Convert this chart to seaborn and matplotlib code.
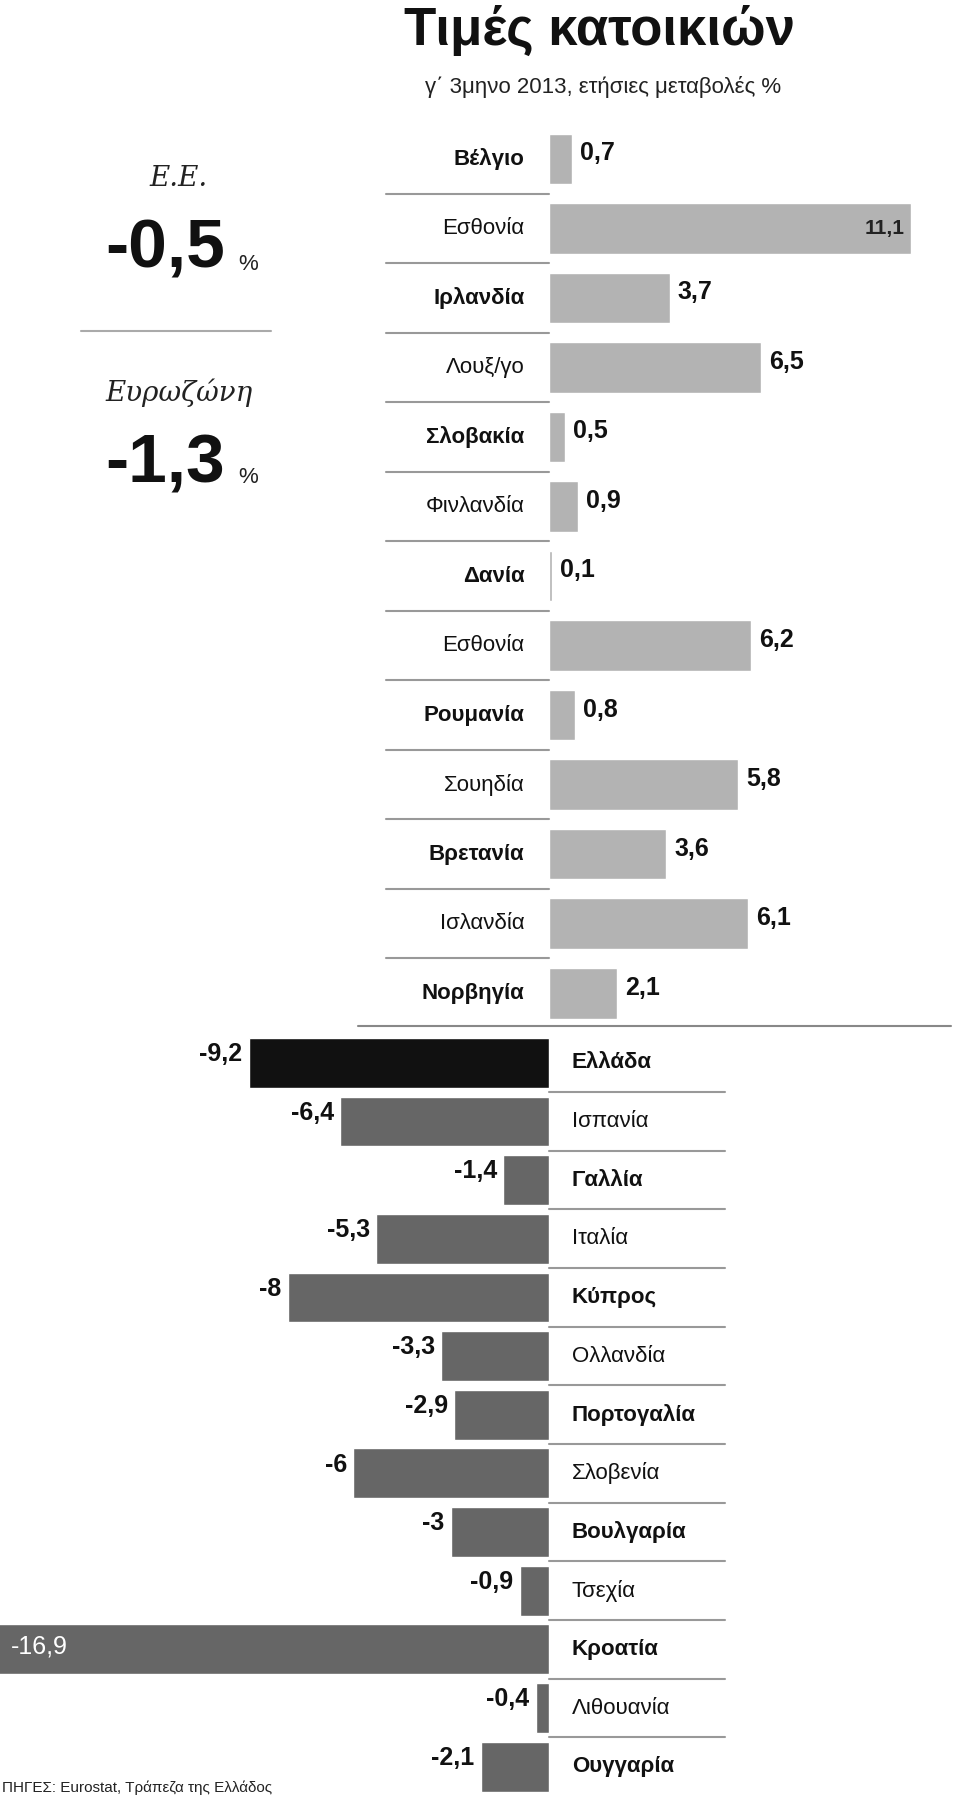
import numpy as np
import pandas as pd
import seaborn as sns
import matplotlib.pyplot as plt
from matplotlib.lines import Line2D

sns.set_style('white')
plt.rcParams['font.family'] = ['Liberation Sans', 'DejaVu Sans']

pos_countries = ['Βέλγιο', 'Εσθονία', 'Ιρλανδία', 'Λουξ/γο', 'Σλοβακία', 'Φινλανδία', 'Δανία',
                 'Εσθονία', 'Ρουμανία', 'Σουηδία', 'Βρετανία', 'Ισλανδία', 'Νορβηγία']
pos_values = [0.7, 11.1, 3.7, 6.5, 0.5, 0.9, 0.1, 6.2, 0.8, 5.8, 3.6, 6.1, 2.1]

neg_countries = ['Ελλάδα', 'Ισπανία', 'Γαλλία', 'Ιταλία', 'Κύπρος', 'Ολλανδία', 'Πορτογαλία',
                 'Σλοβενία', 'Βουλγαρία', 'Τσεχία', 'Κροατία', 'Λιθουανία', 'Ουγγαρία']
neg_values = [-9.2, -6.4, -1.4, -5.3, -8, -3.3, -2.9, -6, -3, -0.9, -16.9, -0.4, -2.1]

W, H = 958, 1796
fig = plt.figure(figsize=(W / 100, H / 100), dpi=100)
X0 = 549  # zero line in px
PX = 32.6  # px per unit
xlim = (-X0 / PX, (W - X0) / PX)


def fmt(v):
    return ('%g' % v).replace('.', ',')


def fy(p):
    return 1 - p / H


# top block
ax1 = fig.add_axes([0, fy(1030), 1, (1030 - 120) / H])
df1 = pd.DataFrame({'row': np.arange(len(pos_values)), 'val': pos_values})
sns.barplot(data=df1, x='val', y='row', orient='h', native_scale=True, color='#b3b3b3',
            width=0.73, ax=ax1, saturation=1)
ax1.set_xlim(xlim)
ax1.set_ylim(12.53, -0.56)
for i, (c, v) in enumerate(zip(pos_countries, pos_values)):
    ax1.text(-0.75, i, c, ha='right', va='center', fontsize=16,
             fontweight='bold' if i % 2 == 0 else 'normal', color='#111')
    if v > 10:
        ax1.text(v - 0.2, i, fmt(v), ha='right', va='center', fontsize=15, fontweight='bold', color='#222')
    else:
        ax1.text(v + 0.25, i - 0.08, fmt(v), ha='left', va='center', fontsize=18, fontweight='bold', color='#111')
    if i < len(pos_values) - 1:
        ax1.plot([-5.0, 0], [i + 0.5, i + 0.5], color='#999', lw=1.5)
ax1.axis('off')

# bottom block
ax2 = fig.add_axes([0, 0, 1, (1796 - 1030) / H])
df2 = pd.DataFrame({'row': np.arange(len(neg_values)), 'val': neg_values})
sns.barplot(data=df2, x='val', y='row', orient='h', native_scale=True, color='#666666',
            width=0.85, ax=ax2, saturation=1)
ax2.patches[0].set_facecolor('#111111')
ax2.set_xlim(xlim)
ax2.set_ylim(12.5, -0.56)
for i, (c, v) in enumerate(zip(neg_countries, neg_values)):
    ax2.text(0.7, i, c, ha='left', va='center', fontsize=16,
             fontweight='bold' if i % 2 == 0 else 'normal', color='#111')
    if v < -15:
        ax2.text(v + 0.4, i - 0.05, fmt(v), ha='left', va='center', fontsize=18, color='white')
    else:
        ax2.text(v - 0.2, i - 0.15, fmt(v), ha='right', va='center', fontsize=18, fontweight='bold', color='#111')
    if i < len(neg_values) - 1:
        ax2.plot([0, 5.4], [i + 0.5, i + 0.5], color='#999', lw=1.5)
ax2.axis('off')

# divider, headline and side figures
fig.add_artist(Line2D([358 / W, 951 / W], [fy(1026), fy(1026)], color='#888', lw=1.5))
fig.add_artist(Line2D([81 / W, 271 / W], [fy(331), fy(331)], color='#aaa', lw=1.5))
fig.text(600 / W, fy(30), 'Τιμές κατοικιών', ha='center', va='center', fontsize=38, fontweight='bold', color='#111')
fig.text(425 / W, fy(87), 'γ΄ 3μηνο 2013, ετήσιες μεταβολές %', ha='left', va='center', fontsize=16, color='#222')
fig.text(179 / W, fy(179), 'Ε.Ε.', ha='center', va='center', fontsize=20, style='italic', family='DejaVu Serif', color='#222')
fig.text(165 / W, fy(250), '-0,5', ha='center', va='center', fontsize=50, fontweight='bold', color='#111')
fig.text(238 / W, fy(264), '%', ha='left', va='center', fontsize=16, color='#222')
fig.text(179 / W, fy(393), 'Ευρωζώνη', ha='center', va='center', fontsize=20, style='italic', family='DejaVu Serif', color='#222')
fig.text(165 / W, fy(464), '-1,3', ha='center', va='center', fontsize=50, fontweight='bold', color='#111')
fig.text(238 / W, fy(478), '%', ha='left', va='center', fontsize=16, color='#222')
fig.text(2 / W, fy(1788), 'ΠΗΓΕΣ: Eurostat, Τράπεζα της Ελλάδος', ha='left', va='center', fontsize=11, color='#222')

fig.savefig('out.png', dpi=100)
